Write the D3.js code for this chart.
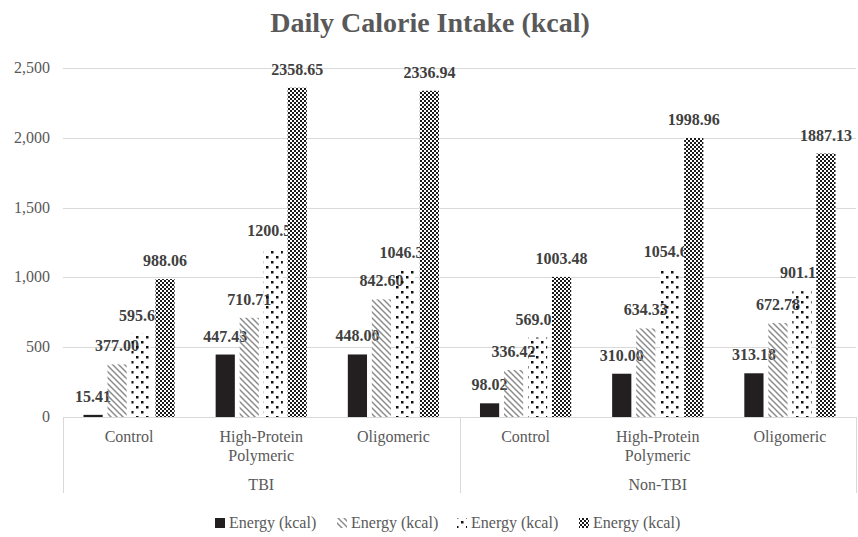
<!DOCTYPE html>
<html>
<head>
<meta charset="utf-8">
<script src="https://cdn.jsdelivr.net/npm/d3@7"></script>
<style>
  body { margin: 0; background: #fff; }
  svg { display: block; font-family: "Liberation Serif", "Times New Roman", serif; }
</style>
</head>
<body>
<svg id="chart" width="858" height="537"></svg>
<script>
// chart values
const groups = ["TBI", "Non-TBI"];
const diets = ["Control", "High-Protein Polymeric", "Oligomeric"];
const seriesNames = ["Energy (kcal)", "Energy (kcal)", "Energy (kcal)", "Energy (kcal)"];
const yTicks = [0, 500, 1000, 1500, 2000, 2500];

// one array per series, order: TBI Control, TBI HPP, TBI Olig, Non-TBI Control, Non-TBI HPP, Non-TBI Olig
const series1 = [15.41, 447.43, 448.00, 98.02, 310.00, 313.18];
const series2 = [377.00, 710.71, 842.60, 336.42, 634.33, 672.78];
const series3 = [595.63, 1200.51, 1046.34, 569.03, 1054.63, 901.17];
const series4 = [988.06, 2358.65, 2336.94, 1003.48, 1998.96, 1887.13];

const allSeries = [series1, series2, series3, series4];
const fills = ["url(#p-solid)", "url(#p-hatch)", "url(#p-dots)", "url(#p-check)"];

const categories = [];
groups.forEach(g => diets.forEach(d => categories.push({ key: g + "|" + d, group: g, diet: d })));

const svg = d3.select("#chart");
const margin = { left: 63, right: 856, top: 68, bottom: 417 };

// patterns (hatch + dots are see-through, like the original)
const defs = svg.append("defs");
const solid = defs.append("pattern").attr("id", "p-solid").attr("patternUnits", "userSpaceOnUse")
    .attr("width", 4).attr("height", 4);
solid.append("rect").attr("width", 4).attr("height", 4).attr("fill", "#231f20");

const hatch = defs.append("pattern").attr("id", "p-hatch").attr("patternUnits", "userSpaceOnUse")
    .attr("width", 6).attr("height", 6);
hatch.append("path").attr("d", "M-1,-1L7,7M-1,5L1,7M5,-1L7,1")
    .attr("stroke", "#8c8c8c").attr("stroke-width", 1.5);

const dots = defs.append("pattern").attr("id", "p-dots").attr("patternUnits", "userSpaceOnUse")
    .attr("width", 10).attr("height", 10);
dots.append("rect").attr("x", 1).attr("y", 1).attr("width", 2.5).attr("height", 2.5).attr("fill", "#111");
dots.append("rect").attr("x", 6).attr("y", 6).attr("width", 2.5).attr("height", 2.5).attr("fill", "#111");

const check = defs.append("pattern").attr("id", "p-check").attr("patternUnits", "userSpaceOnUse")
    .attr("width", 4).attr("height", 4);
check.append("rect").attr("width", 4).attr("height", 4).attr("fill", "#fff");
check.append("rect").attr("width", 2).attr("height", 2).attr("fill", "#1a1a1a");
check.append("rect").attr("x", 2).attr("y", 2).attr("width", 2).attr("height", 2).attr("fill", "#1a1a1a");

// scales
const y = d3.scaleLinear().domain([0, 2500]).range([margin.bottom, margin.top]);
const x0 = d3.scaleBand().domain(categories.map(c => c.key)).range([margin.left, margin.right]);
const half = 48;
const x1 = d3.scaleBand().domain(d3.range(4))
    .range([x0.bandwidth() / 2 - half, x0.bandwidth() / 2 + half])
    .paddingInner(0.2).paddingOuter(0.1);

// title
svg.append("text")
    .attr("x", 430).attr("y", 32)
    .attr("text-anchor", "middle")
    .attr("font-size", 28).attr("font-weight", "bold")
    .attr("fill", "#595959")
    .text("Daily Calorie Intake (kcal)");

// gridlines + y labels
const grid = svg.append("g");
grid.selectAll("line").data(yTicks).join("line")
    .attr("x1", margin.left).attr("x2", margin.right)
    .attr("y1", d => Math.round(y(d)) + 0.5).attr("y2", d => Math.round(y(d)) + 0.5)
    .attr("stroke", "#d9d9d9").attr("stroke-width", 1);
grid.selectAll("text").data(yTicks).join("text")
    .attr("x", 50).attr("y", d => y(d) + 5)
    .attr("text-anchor", "end")
    .attr("font-size", 16).attr("fill", "#595959")
    .text(d => d3.format(",")(d));

// category axis lines
const axis = svg.append("g").attr("stroke", "#d9d9d9").attr("stroke-width", 1);
const sepX = [margin.left, x0(categories[3].key), margin.right];
axis.selectAll("line").data(sepX).join("line")
    .attr("x1", d => Math.round(d) + 0.5).attr("x2", d => Math.round(d) + 0.5)
    .attr("y1", margin.bottom).attr("y2", 493);

// white backing so gridlines don't run through the see-through patterns
const backing = svg.append("g");
allSeries.forEach((vals, si) => {
    backing.selectAll("rect.s" + si).data(vals).join("rect")
        .attr("class", "s" + si)
        .attr("x", (d, i) => x0(categories[i].key) + x1(si))
        .attr("width", x1.bandwidth())
        .attr("y", d => y(d))
        .attr("height", d => y(0) - y(d))
        .attr("fill", "#fff");
});

// bars and labels, series by series (later bars sit over earlier labels)
allSeries.forEach((vals, si) => {
    const g = svg.append("g");
    g.selectAll("rect").data(vals).join("rect")
        .attr("x", (d, i) => x0(categories[i].key) + x1(si))
        .attr("width", x1.bandwidth())
        .attr("y", d => y(d))
        .attr("height", d => y(0) - y(d))
        .attr("fill", fills[si]);
    g.selectAll("text").data(vals).join("text")
        .attr("x", (d, i) => x0(categories[i].key) + x1(si) + x1.bandwidth() / 2)
        .attr("y", d => y(d) - 13)
        .attr("text-anchor", "middle")
        .attr("font-size", 16).attr("font-weight", "bold")
        .attr("fill", "#404040")
        .text(d => d.toFixed(2));
});

// category labels
const catLabels = svg.append("g").attr("font-size", 16).attr("fill", "#595959").attr("text-anchor", "middle");
categories.forEach(c => {
    const cx = x0(c.key) + x0.bandwidth() / 2;
    const lines = c.diet === "High-Protein Polymeric" ? ["High-Protein", "Polymeric"] : [c.diet];
    lines.forEach((ln, li) => {
        catLabels.append("text").attr("x", cx).attr("y", 442 + li * 19).text(ln);
    });
});
groups.forEach((g, gi) => {
    const first = x0(categories[gi * 3].key);
    const last = x0(categories[gi * 3 + 2].key) + x0.bandwidth();
    catLabels.append("text").attr("x", (first + last) / 2).attr("y", 490).text(g);
});

// legend
const legend = svg.append("g");
const legendX = [215, 337, 457, 579];
seriesNames.forEach((name, i) => {
    legend.append("rect")
        .attr("x", legendX[i]).attr("y", 518)
        .attr("width", 10).attr("height", 10)
        .attr("fill", fills[i]);
    legend.append("text")
        .attr("x", legendX[i] + 14).attr("y", 528)
        .attr("font-size", 16).attr("fill", "#595959")
        .text(name);
});
</script>
</body>
</html>
